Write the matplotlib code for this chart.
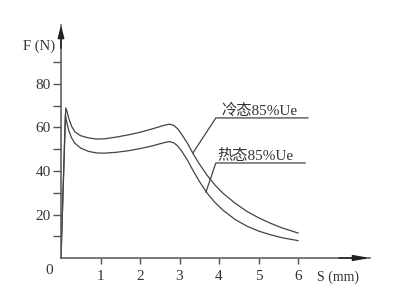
import matplotlib
matplotlib.use("Agg")
import matplotlib.pyplot as plt

# displacement S (mm) and force F (N)
s_cold = [0, 0.12, 0.15, 0.2, 0.27, 0.35, 0.5, 0.7, 0.9, 1.1, 1.4, 1.7, 2.0, 2.3, 2.5, 2.65,
          2.75, 2.85, 2.95, 3.05, 3.2, 3.35, 3.5, 3.7, 3.9, 4.1, 4.4, 4.7, 5.0, 5.3, 5.6, 6.0]
f_cold = [0, 69, 67.5, 64, 60.5, 58, 56.2, 55.2, 54.7, 54.8, 55.6, 56.6, 57.8, 59.3, 60.4, 61.2,
          61.5, 61, 59.5, 57, 52.8, 47.8, 43.3, 38, 33.5, 29.8, 25.3, 21.5, 18.5, 16, 13.8, 11.5]

s_hot = [0, 0.11, 0.14, 0.19, 0.26, 0.35, 0.5, 0.7, 0.9, 1.1, 1.4, 1.7, 2.0, 2.3, 2.5, 2.65,
         2.75, 2.85, 2.95, 3.05, 3.2, 3.35, 3.5, 3.7, 3.9, 4.1, 4.4, 4.7, 5.0, 5.3, 5.6, 6.0]
f_hot = [0, 66, 63, 59, 55.5, 52.8, 50.5, 49, 48.3, 48.2, 48.6, 49.3, 50.3, 51.5, 52.5, 53.2,
         53.5, 53, 51.6, 49.3, 45, 40, 35.3, 29.8, 25.5, 22, 17.8, 14.7, 12.4, 10.7, 9.3, 8]

x_ticks = [1, 2, 3, 4, 5, 6]
y_major = [20, 40, 60, 80]
y_minor = [10, 30, 50, 70, 90]

label_cold = "冷态85%Ue"
label_hot = "热态85%Ue"

serif = ["Liberation Serif", "DejaVu Serif"]
cjk = ["Liberation Serif", "Noto Sans CJK SC"]
axcol = "#555555"
linecol = "#444444"
txtcol = "#333333"

fig = plt.figure(figsize=(4.01, 3.02), dpi=100)
ax = fig.add_axes([61 / 401, 44 / 302, 309 / 401, 233 / 302])
ax.set_xlim(0, 309 / 39.5)
ax.set_ylim(0, 233 / 2.175)

ax.plot(s_cold, f_cold, color=linecol, lw=0.9)
ax.plot(s_hot, f_hot, color=linecol, lw=0.9)

# leader lines to the labels
ax.plot([3.34, 3.92, 6.25], [48.3, 64.4, 64.4], color=linecol, lw=0.9)
ax.plot([3.67, 3.92, 6.18], [30.3, 43.7, 43.7], color=linecol, lw=0.9)
ax.text(4.06, 65.6, label_cold, family=cjk, fontsize=11, color=txtcol, va="baseline")
ax.text(3.97, 44.9, label_hot, family=cjk, fontsize=11, color=txtcol, va="baseline")

for side in ["top", "right"]:
    ax.spines[side].set_visible(False)
for side in ["left", "bottom"]:
    ax.spines[side].set_color(axcol)
    ax.spines[side].set_linewidth(1.1)

ax.set_xticks(x_ticks)
ax.set_xticklabels([str(v) for v in x_ticks], family=serif, fontsize=11)
ax.set_yticks(y_major)
ax.set_yticklabels([str(v) for v in y_major], family=serif, fontsize=11)
ax.set_yticks(y_minor, minor=True)
ax.tick_params(axis="x", direction="out", length=4, width=1, color=axcol, pad=5, labelcolor=txtcol)
ax.tick_params(axis="y", which="both", direction="out", length=5.5, width=1, color=axcol, pad=2,
               labelcolor=txtcol)

# arrow heads
ax.annotate("", xy=(1, 0), xytext=(0.9, 0), xycoords="axes fraction",
            arrowprops=dict(arrowstyle="-|>,head_length=0.95,head_width=0.17", mutation_scale=10,
                            color="#222222", lw=1.1, shrinkA=0, shrinkB=0))
ax.annotate("", xy=(0, 1), xytext=(0, 0.9), xycoords="axes fraction",
            arrowprops=dict(arrowstyle="-|>,head_length=0.75,head_width=0.19", mutation_scale=10,
                            color="#222222", lw=1.1, shrinkA=0, shrinkB=0))

fig.text(23 / 401, 1 - 46 / 302, "F (N)", family=serif, fontsize=10.5, va="center", color=txtcol)
fig.text(49 / 401, 1 - 270 / 302, "0", family=serif, fontsize=11, va="center", ha="center",
         color=txtcol)
fig.text(317 / 401, 1 - 277 / 302, "S (mm)", family=serif, fontsize=10, va="center", color=txtcol)

fig.savefig("out.png", dpi=100)
